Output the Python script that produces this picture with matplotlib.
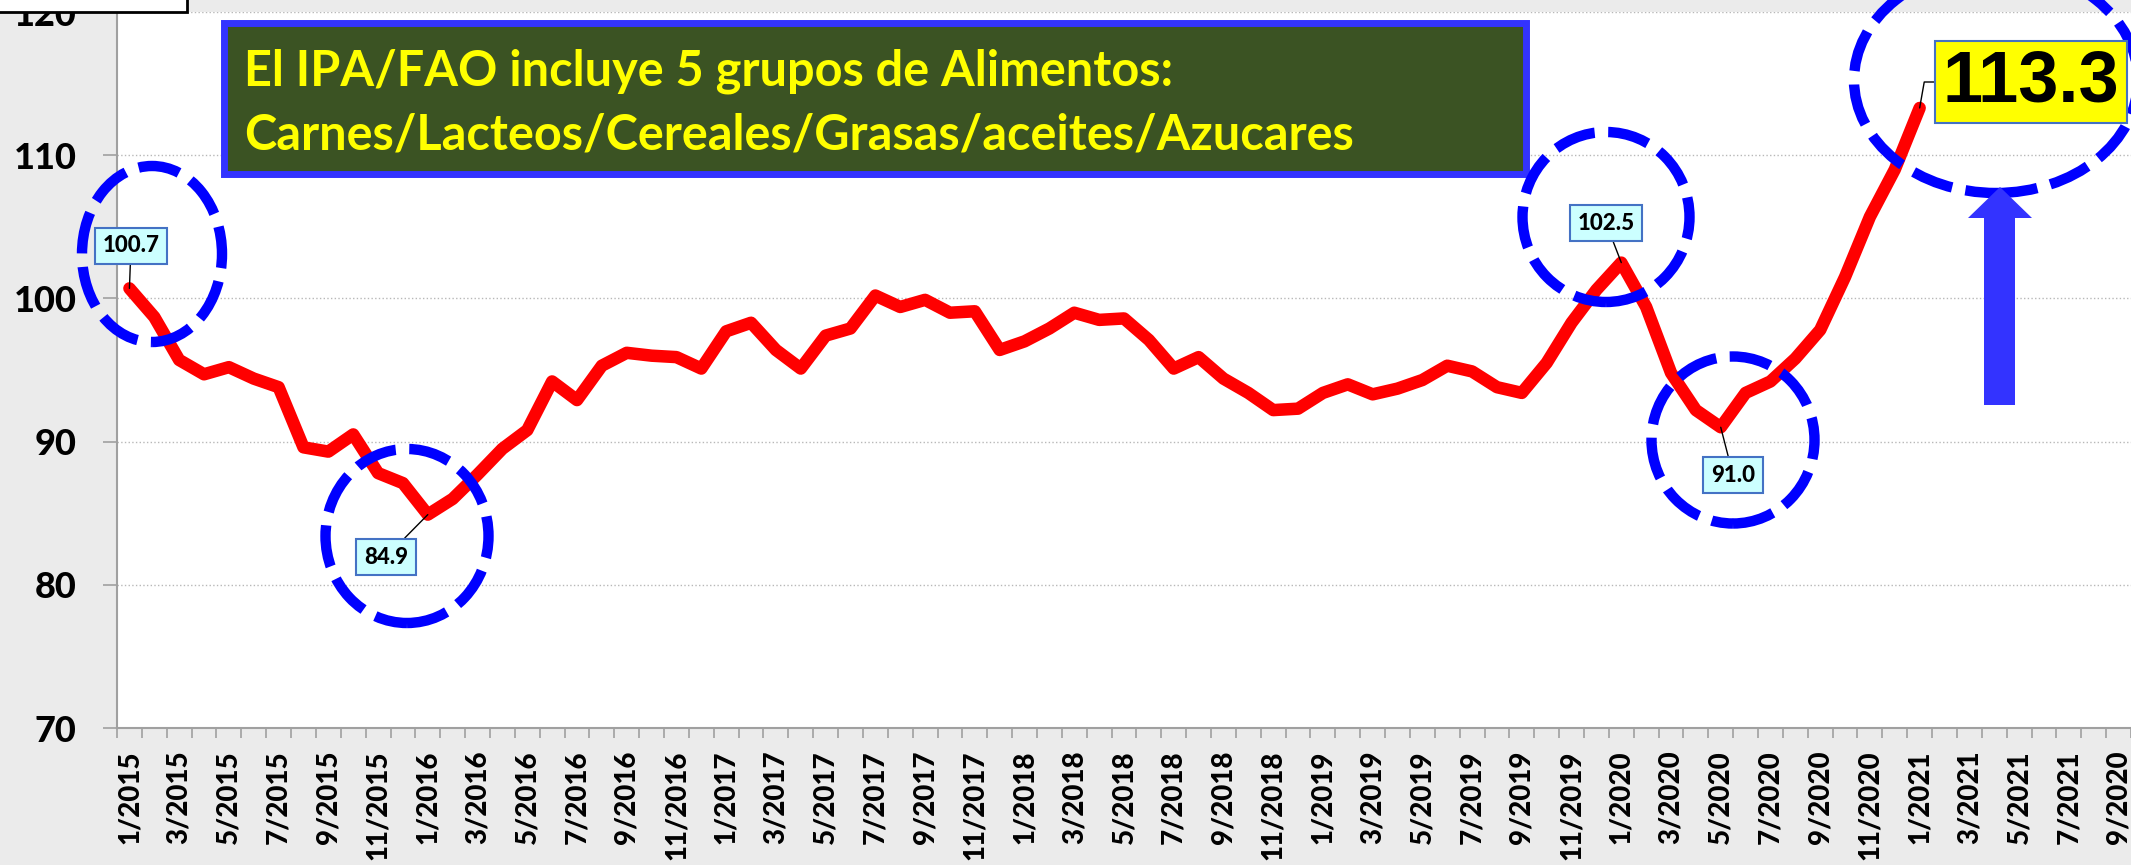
import matplotlib
matplotlib.use("Agg")
import matplotlib.pyplot as plt
from matplotlib.patches import Ellipse, Rectangle, Polygon

W, H = 2131, 865
DPI = 100

# categorías mensuales 1/2015 .. 9/2021 (eje de categorías tipo Excel)
months = [f"{m}/{y}" for y in range(2015, 2022) for m in range(1, 13)][:81]
tick_labels = months[::2]
tick_labels[-1] = "9/2020"          # así aparece en el original

# Índice de precios de alimentos FAO (2014-2016 = 100), 1/2015 .. 1/2021
ipa = [
    100.7, 98.7, 95.7, 94.7, 95.2, 94.4, 93.8, 89.6, 89.3, 90.5, 87.8, 87.1,    # 2015
    84.9, 86.0, 87.7, 89.5, 90.8, 94.2, 92.9, 95.3, 96.2, 96.0, 95.9, 95.1,     # 2016
    97.7, 98.3, 96.4, 95.1, 97.4, 97.9, 100.2, 99.4, 99.9, 99.0, 99.1, 96.4,    # 2017
    97.0, 97.9, 99.0, 98.5, 98.6, 97.1, 95.1, 95.9, 94.4, 93.4, 92.2, 92.3,     # 2018
    93.4, 94.0, 93.3, 93.7, 94.3, 95.3, 94.9, 93.8, 93.4, 95.5, 98.3, 100.6,    # 2019
    102.5, 99.4, 94.8, 92.2, 91.0, 93.4, 94.2, 95.8, 97.8, 101.5, 105.7, 109.0, # 2020
    113.3,                                                                      # 1/2021
]
y_ticks = [70, 80, 90, 100, 110, 120]

# puntos etiquetados: indice -> centro de la caja (px de la imagen)
marked = [0, 12, 60, 64]
box_pos = {0: (131, 246), 12: (386, 557), 60: (1606, 223), 64: (1733, 475)}

BG = "#ebebeb"
RED = "#ff0000"
BLUE = "#0000ff"
ARROW = "#3333ff"
GREEN_BOX = "#3b5323"
FONT = ["Lato", "DejaVu Sans"]


def fx(x):
    return x / W


def fy(y):
    return 1 - y / H


fig = plt.figure(figsize=(W / DPI, H / DPI), dpi=DPI, facecolor=BG)
ax = fig.add_axes([fx(117), fy(728), 1 - fx(117), fy(12) - fy(728)])
ax.set_facecolor("white")

x = list(range(len(ipa)))
ax.plot(x, ipa, color=RED, lw=9, solid_joinstyle="round",
        solid_capstyle="round", zorder=3)

ax.set_xlim(-0.5, 80.35)
ax.set_ylim(70, 120)
ax.set_yticks(y_ticks)
ax.set_yticklabels([str(v) for v in y_ticks], fontsize=26, fontweight="black",
                   family=FONT)
ax.tick_params(axis="y", length=10, width=1.2, color="#a0a0a0", pad=19)
ax.grid(axis="y", color="#b8b8b8", ls=":", lw=1.0)

ax.set_xticks(range(0, len(months), 2))
ax.set_xticklabels(tick_labels, rotation=90, fontsize=20, fontweight="black",
                   family=FONT)
ax.set_xticks([i - 0.5 for i in range(len(months) + 1)], minor=True)
ax.tick_params(axis="x", which="major", length=0, pad=16)
ax.tick_params(axis="x", which="minor", length=7, width=1.2, color="#a0a0a0")

for s in ["top", "right"]:
    ax.spines[s].set_visible(False)
for s in ["left", "bottom"]:
    ax.spines[s].set_color("#a0a0a0")
    ax.spines[s].set_linewidth(1.5)

# recuadro verde
ax.add_patch(Rectangle((fx(224), fy(174)), fx(1302), fy(0) - fy(151),
                       transform=fig.transFigure, facecolor=GREEN_BOX,
                       edgecolor=ARROW, lw=5, clip_on=False, zorder=5))
ax.text(fx(244), fy(86), "El IPA/FAO incluye 5 grupos de Alimentos:",
        transform=fig.transFigure, color="yellow", fontsize=35,
        fontweight="bold", family=FONT, va="baseline", zorder=6)
ax.text(fx(244), fy(149), "Carnes/Lacteos/Cereales/Grasas/aceites/Azucares",
        transform=fig.transFigure, color="yellow", fontsize=35,
        fontweight="bold", family=FONT, va="baseline", zorder=6)

# elipses punteadas
dash = (0, (4.0, 1.3))
ellipses = [(152, 254, 140, 176), (407, 536, 163, 174), (1606, 217, 167, 170),
            (1733, 440, 163, 167), (1996, 80, 284, 226)]
for cx, cy, w, h in ellipses:
    ax.add_patch(Ellipse((fx(cx), fy(cy)), fx(w), fy(0) - fy(h),
                         transform=fig.transFigure, fill=False,
                         edgecolor=BLUE, lw=7.5, ls=dash, clip_on=False,
                         zorder=7))

# etiquetas de datos
for i in marked:
    bx, by = box_pos[i]
    ax.annotate(f"{ipa[i]:.1f}", xy=(i, ipa[i]), xycoords="data",
                xytext=(bx, H - by), textcoords="figure pixels",
                ha="center", va="center", fontsize=16, fontweight="black",
                family=FONT,
                bbox=dict(boxstyle="square,pad=0.35", fc="#ccffff",
                          ec="#4472c4", lw=1.5),
                arrowprops=dict(arrowstyle="-", color="black", lw=1,
                                shrinkA=0, shrinkB=0),
                zorder=8, annotation_clip=False)

last = len(ipa) - 1
ax.annotate(f"{ipa[last]:.1f}", xy=(last, ipa[last]), xycoords="data",
            xytext=(2031, H - 82), textcoords="figure pixels",
            ha="center", va="center", fontsize=52, fontweight="bold",
            family=["Liberation Sans", "DejaVu Sans"],
            bbox=dict(boxstyle="square,pad=0.1", fc="yellow",
                      ec="#4472c4", lw=1.5),
            arrowprops=dict(arrowstyle="-", color="black", lw=1,
                            shrinkA=0, shrinkB=0, relpos=(0, 0.5),
                            connectionstyle="angle,angleA=0,angleB=80"),
            zorder=8, annotation_clip=False)

# flecha azul hacia arriba
arrow_pts = [(2000, 187), (2032, 218), (2015, 218), (2015, 405),
             (1984, 405), (1984, 218), (1968, 218)]
ax.add_patch(Polygon([(fx(px), fy(py)) for px, py in arrow_pts], closed=True,
                     transform=fig.transFigure, facecolor=ARROW,
                     edgecolor="none", clip_on=False, zorder=9))

# recuadro del titulo recortado arriba a la izquierda
fig.patches.append(Rectangle((fx(-5), fy(12)), fx(192), fy(0) - fy(20),
                             transform=fig.transFigure, facecolor="white",
                             edgecolor="black", lw=2, zorder=10))

fig.savefig("out.png", dpi=DPI, facecolor=BG)
